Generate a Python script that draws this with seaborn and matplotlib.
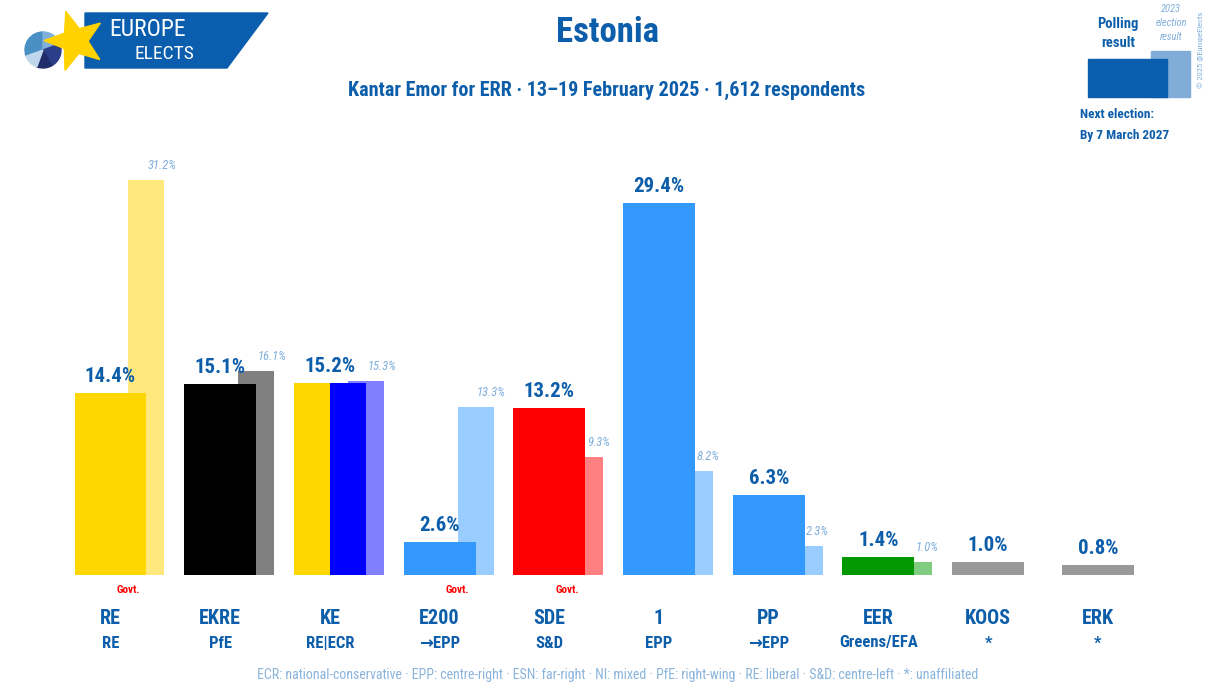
import matplotlib
matplotlib.use("Agg")
import matplotlib.pyplot as plt
from matplotlib import font_manager as fm
from matplotlib.patches import Polygon, Rectangle, Wedge
import seaborn as sns
import pandas as pd
import numpy as np

# ---------------- data ----------------
parties = ["RE", "EKRE", "KE", "E200", "SDE", "1", "PP", "EER", "KOOS", "ERK"]
groups = ["RE", "PfE", "RE|ECR", "→EPP", "S&D", "EPP", "→EPP", "Greens/EFA", "*", "*"]
poll = [14.4, 15.1, 15.2, 2.6, 13.2, 29.4, 6.3, 1.4, 1.0, 0.8]
prev = [31.2, 16.1, 15.3, 13.3, 9.3, 8.2, 2.3, 1.0, None, None]
govt = [True, False, False, True, True, False, False, False, False, False]
colors = ["#FFD700", "#000000", "#FFD700", "#3399FF", "#FF0000", "#3399FF",
          "#3399FF", "#009900", "#999999", "#999999"]
second_colors = [None, None, "#0000FF", None, None, None, None, None, None, None]
prev_colors = ["#FFE97F", "#808080", "#8080FF", "#99CCFF", "#FF8080", "#99CCFF",
               "#99CCFF", "#80CC80", None, None]

title = "Estonia"
subtitle = "Kantar Emor for ERR · 13–19 February 2025 · 1,612 respondents"
footer = ("ECR: national-conservative · EPP: centre-right · ESN: far-right · NI: mixed · "
          "PfE: right-wing · RE: liberal · S&D: centre-left · *: unaffiliated")

# ---------------- fonts ----------------
def pick(cands):
    for c in cands:
        try:
            fm.findfont(fm.FontProperties(family=c), fallback_to_default=False)
            return c
        except Exception:
            pass
    return "DejaVu Sans"

FONT = pick(["Liberation Sans Narrow", "Roboto Condensed", "Open Sans Condensed", "Roboto", "Lato"])
sns.set_theme(style="white")
plt.rcParams["font.family"] = [FONT, "DejaVu Sans"]

BLUE = "#0D5EAA"
LIGHT = "#7FAEDB"

W, H = 1215, 700
fig = plt.figure(figsize=(W / 100, H / 100), dpi=100)
ax = fig.add_axes([0, 0, 1, 1])

MAINW = 0.656
PREVW = 0.328

# previous-election bars (behind)
for i, (p, c) in enumerate(zip(prev, prev_colors)):
    if p is None:
        continue
    ax.bar(i + 0.328, p, width=PREVW, color=c, zorder=1, linewidth=0)

df = pd.DataFrame({"party": parties, "poll": poll})
sns.barplot(data=df, x="party", y="poll", hue="party", palette=colors, legend=False,
            width=MAINW, ax=ax, saturation=1, linewidth=0)
nprev = len([p for p in prev if p is not None])
for patch in ax.patches[nprev:]:
    patch.set_zorder(2)

for i, c2 in enumerate(second_colors):
    if c2:
        ax.bar(i + MAINW / 4, poll[i], width=MAINW / 2, color=c2, zorder=3, linewidth=0)

ax.set_xlim((0 - 110.5) / 109.7, (W - 110.5) / 109.7)
pxper = 12.66
ax.set_ylim(-(H - 575) / pxper, 575 / pxper)
ax.axis("off")

off = 7 / pxper
for i, v in enumerate(poll):
    ax.text(i, v + off, f"{v:.1f}%", ha="center", va="bottom", fontsize=15,
            fontweight="bold", color=BLUE, zorder=5)
for i, p in enumerate(prev):
    if p is None:
        continue
    ax.text(i + MAINW / 2 + 0.012, p + 8 / pxper, f"{p:.1f}%", ha="left", va="bottom",
            fontsize=9, style="italic", color=LIGHT, zorder=5)

for i in range(len(parties)):
    ax.text(i, -(618 - 575) / pxper, parties[i], ha="center", va="center",
            fontsize=14.5, fontweight="bold", color=BLUE)
    ax.text(i, -(643 - 575) / pxper, groups[i], ha="center", va="center",
            fontsize=12, fontweight="bold", color=BLUE)
    if govt[i]:
        ax.text(i + 0.16, -(590 - 575) / pxper, "Govt.", ha="center", va="center",
                fontsize=8, fontweight="bold", color="#FF0000")

# ---------------- overlay in pixel coordinates ----------------
ov = fig.add_axes([0, 0, 1, 1], facecolor="none")
ov.set_xlim(0, W)
ov.set_ylim(H, 0)
ov.axis("off")

ov.text(618, 675, footer, ha="center", va="center", fontsize=10, color="#8AB4DC")
ov.text(607, 33, title, ha="center", va="center", fontsize=25, fontweight="bold", color=BLUE)
ov.text(607, 90, subtitle, ha="center", va="center", fontsize=14.5, fontweight="bold", color=BLUE)

# logo
ov.add_patch(Polygon([(85, 13), (268, 13), (227, 68), (85, 68)], closed=True,
                     color="#0B5EAD", zorder=10))
cx, cy, r = 43, 50, 18
wcols = ["#4A8FC4", "#7FB0DC", "#2B3F88", "#1F2E6B", "#BFD6EC"]
angs = [(90, 200), (20, 90), (-60, 20), (-110, -60), (200, 250)]
for (a1, a2), c in zip(angs, wcols):
    ov.add_patch(Wedge((cx, cy), r, -a2, -a1, color=c, zorder=11))
sx, sy, R = 75, 41, 31
pts = []
for k in range(10):
    ang = np.pi / 2 + k * np.pi / 5 + 0.30
    rr = R if k % 2 == 0 else R * 0.42
    pts.append((sx + rr * np.cos(ang), sy - rr * np.sin(ang)))
ov.add_patch(Polygon(pts, closed=True, color="#FFD200", zorder=12))
ov.text(148, 30, "EUROPE", ha="center", va="center", fontsize=17, color="white", zorder=13)
ov.text(164, 54, "ELECTS", ha="center", va="center", fontsize=14, color="white", zorder=13)

# legend top right
ov.add_patch(Rectangle((1151, 51), 39, 46, color="#7FADD8", zorder=10))
ov.add_patch(Rectangle((1088, 59), 79, 38, color="#0B5EAD", zorder=11))
ov.text(1118, 24, "Polling", ha="center", va="center", fontsize=10.5,
        fontweight="bold", color=BLUE)
ov.text(1118, 43, "result", ha="center", va="center", fontsize=10.5,
        fontweight="bold", color=BLUE)
for j, t in enumerate(["2023", "election", "result"]):
    ov.text(1171, 9 + j * 14, t, ha="center", va="center", fontsize=7.5,
            style="italic", color=LIGHT)
ov.text(1201, 50, "© 2025 @EuropeElects", ha="center", va="center",
        fontsize=6, rotation=90, color=LIGHT)
ov.text(1080, 115, "Next election:", ha="left", va="center", fontsize=9.5,
        fontweight="bold", color=BLUE)
ov.text(1080, 135, "By 7 March 2027", ha="left", va="center", fontsize=9.5,
        fontweight="bold", color=BLUE)

fig.savefig("out.png", dpi=100)
